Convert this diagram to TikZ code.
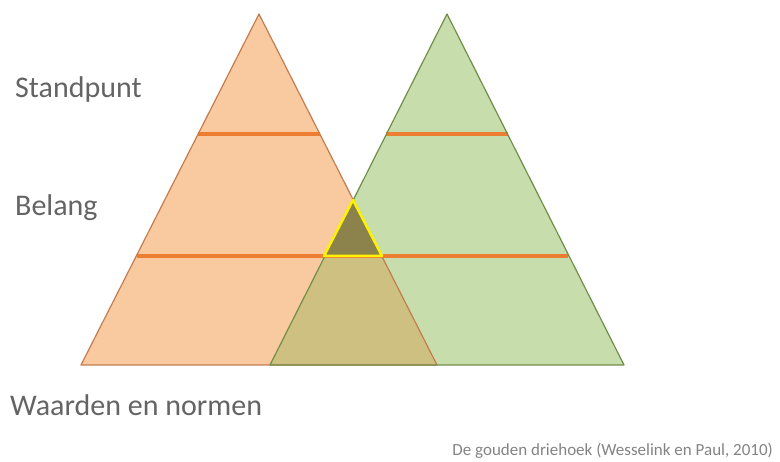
\documentclass[tikz,border=0pt]{standalone}
\usepackage{fontspec}
\setmainfont{Carlito}
\definecolor{orangefill}{RGB}{249,201,160}
\definecolor{orangeedge}{RGB}{196,124,78}
\definecolor{orangeline}{RGB}{237,125,49}
\definecolor{greenfill}{RGB}{200,221,172}
\definecolor{greenedge}{RGB}{112,142,72}
\definecolor{mixfill}{RGB}{205,192,128}
\definecolor{corefill}{RGB}{140,131,76}
\definecolor{labelgray}{RGB}{100,100,100}
\tikzset{
  level/.style={orangeline, line width=3.5pt},
  sidelabel/.style={anchor=base west, inner sep=0pt, text=labelgray, font=\fontsize{30}{36}\selectfont},
}
\begin{document}
\begin{tikzpicture}[x=1pt, y=-1pt]
  \useasboundingbox (0,0) rectangle (780,462);

  % corner points of both triangles
  \coordinate (ltop) at (259,14);
  \coordinate (lleft) at (81,365);
  \coordinate (lright) at (437,365);
  \coordinate (rtop) at (447,14);
  \coordinate (rleft) at (270,365);
  \coordinate (rright) at (624,365);
  \coordinate (cross) at (353,200);

  % triangles and their overlap
  \fill[orangefill] (ltop) -- (lright) -- (lleft) -- cycle;
  \fill[greenfill] (rtop) -- (rright) -- (rleft) -- cycle;
  \fill[mixfill] (cross) -- (lright) -- (rleft) -- cycle;

  % levels
  \draw[level] (198,134) -- (320,134);
  \draw[level] (386,134) -- (508,134);
  \draw[level] (137,256) -- (381,256);
  \draw[level] (381,256) -- (568,256);

  % outlines
  \draw[orangeedge, line width=1.2pt, line join=round] (ltop) -- (lright) -- (lleft) -- cycle;
  \draw[greenedge, line width=1.2pt, line join=round] (rtop) -- (rright) -- (rleft) -- cycle;

  % the golden triangle
  \filldraw[fill=corefill, draw=yellow, line width=2.5pt, line join=round]
    (cross) -- (382,256) -- (324,256) -- cycle;

  % labels
  \node[sidelabel] (standpunt) at (15,98) {Standpunt};
  \node[sidelabel] (belang) at (15,216) {Belang};
  \node[sidelabel] (waarden) at (10,416) {Waarden en normen};
  \node[anchor=base east, inner sep=0pt, text=labelgray!80, font=\fontsize{17}{20}\selectfont]
    (bron) at (773,456) {De gouden driehoek (Wesselink en Paul, 2010)};
\end{tikzpicture}
\end{document}
